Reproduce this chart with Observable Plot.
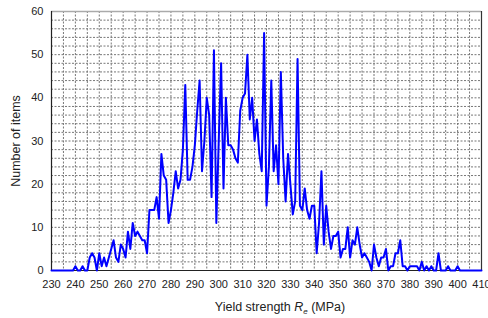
<!DOCTYPE html>
<html>
<head>
<meta charset="utf-8">
<script src="https://cdn.jsdelivr.net/npm/d3@7"></script>
<script src="https://cdn.jsdelivr.net/npm/@observablehq/plot@0.6"></script>
<style>
  html, body { margin: 0; padding: 0; background: #fff; }
  #chart { width: 488px; height: 318px; }
  svg { font-family: "Liberation Sans", Arial, sans-serif; }
</style>
</head>
<body>
<div id="chart"></div>
<script>
// Yield strength (MPa), 1 MPa steps
const strengthMPa = [
  230,231,232,233,234,235,236,237,238,239,
  240,241,242,243,244,245,246,247,248,249,
  250,251,252,253,254,255,256,257,258,259,
  260,261,262,263,264,265,266,267,268,269,
  270,271,272,273,274,275,276,277,278,279,
  280,281,282,283,284,285,286,287,288,289,
  290,291,292,293,294,295,296,297,298,299,
  300,301,302,303,304,305,306,307,308,309,
  310,311,312,313,314,315,316,317,318,319,
  320,321,322,323,324,325,326,327,328,329,
  330,331,332,333,334,335,336,337,338,339,
  340,341,342,343,344,345,346,347,348,349,
  350,351,352,353,354,355,356,357,358,359,
  360,361,362,363,364,365,366,367,368,369,
  370,371,372,373,374,375,376,377,378,379,
  380,381,382,383,384,385,386,387,388,389,
  390,391,392,393,394,395,396,397,398,399,
  400,401,402,403,404,405,406,407,408,409,
  410
];
// Number of items at each strength
const itemCounts = [
  0,0,0,0,0,0,0,0,0,0,
  1,0,0,1,0,0,3,4,3,0,
  4,1,3,1,3,5,7,3,2,6,
  5,3,9,5,11,8,9,8,7,7,
  4,14,14,14,17,12,27,22,21,11,
  14,18,23,19,21,28,43,21,21,24,
  29,37,44,23,30,40,36,17,51,11,
  30,48,19,40,29,29,28,26,25,37,
  40,41,50,35,40,30,35,27,23,55,
  15,24,44,23,29,20,46,26,16,27,
  20,13,16,49,15,14,19,14,12,15,
  15,4,11,23,6,15,9,5,8,8,
  9,3,5,5,10,3,7,6,10,6,
  3,4,3,2,0,6,3,1,3,3,
  5,0,1,1,4,4,7,1,1,0,
  1,1,1,1,0,2,0,1,0,1,
  0,0,4,0,0,0,1,0,0,0,
  1,0,0,0,0,0,0,0,0,0,
  0
];
const xTicks = [230,240,250,260,270,280,290,300,310,320,330,340,350,360,370,380,390,400,410];
const yTicks = [0,10,20,30,40,50,60];
const xGrid = [230,235,240,245,250,255,260,265,270,275,280,285,290,295,300,305,310,315,320,325,330,335,340,345,350,355,360,365,370,375,380,385,390,395,400,405,410];
const yGrid = [0,2,4,6,8,10,12,14,16,18,20,22,24,26,28,30,32,34,36,38,40,42,44,46,48,50,52,54,56,58,60];

const data = strengthMPa.map((s, i) => ({ s, n: itemCounts[i] }));

const chart = Plot.plot({
  width: 488,
  height: 318,
  marginLeft: 51,
  marginRight: 7,
  marginTop: 11,
  marginBottom: 48,
  style: { fontFamily: '"Liberation Sans", Arial, sans-serif', fontSize: "11px", color: "#222", background: "#fff" },
  x: { domain: [230, 410], ticks: xTicks, tickSize: 0, tickPadding: 10, label: null },
  y: { domain: [0, 60], ticks: yTicks, tickSize: 0, tickPadding: 8, label: null },
  marks: [
    Plot.gridX(xGrid, { stroke: "#777", strokeOpacity: 1, strokeDasharray: "2,1.5", strokeWidth: 1 }),
    Plot.gridY(yGrid, { stroke: "#777", strokeOpacity: 1, strokeDasharray: "2,1.5", strokeWidth: 1 }),
    Plot.ruleY([60], { stroke: "#aaa", strokeWidth: 1.5 }),
    Plot.ruleX([410], { stroke: "#333", strokeWidth: 1.2 }),
    Plot.ruleX([230], { stroke: "#222", strokeWidth: 1.2 }),
    Plot.ruleY([0], { stroke: "#222", strokeWidth: 1.2 }),
    Plot.axisX({ ticks: xTicks, tickSize: 0, tickPadding: 10, label: null }),
    Plot.axisY({ ticks: yTicks, tickSize: 0, tickPadding: 8, label: null }),
    Plot.line(data, { x: "s", y: "n", stroke: "#0000ff", strokeWidth: 2, strokeLinejoin: "round" })
  ]
});

const svg = d3.select(chart);
const xt = svg.append("text")
  .attr("x", 280).attr("y", 311)
  .attr("text-anchor", "middle")
  .attr("font-size", "12.5px")
  .attr("fill", "#222");
xt.append("tspan").text("Yield strength ");
xt.append("tspan").attr("font-style", "italic").text("R");
xt.append("tspan").attr("font-size", "8px").attr("dy", "3").attr("font-style", "italic").text("e");
xt.append("tspan").attr("dy", "-3").text(" (MPa)");

svg.append("text")
  .attr("transform", "translate(20,141) rotate(-90)")
  .attr("text-anchor", "middle")
  .attr("font-size", "12.5px")
  .attr("fill", "#222")
  .text("Number of items");

document.getElementById("chart").appendChild(chart);
</script>
</body>
</html>
